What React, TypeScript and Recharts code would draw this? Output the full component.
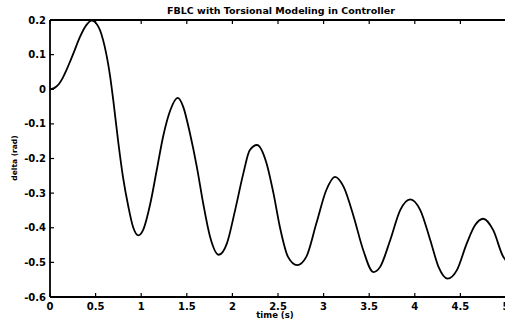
import React from 'react';
import { LineChart, Line, XAxis, YAxis } from 'recharts';

const timeS = [0, 0.05, 0.1, 0.14, 0.18, 0.22, 0.26, 0.33, 0.4, 0.455, 0.53, 0.6, 0.66, 0.7, 0.75, 0.8, 0.86, 0.91, 0.97, 1.02, 1.1, 1.17, 1.24, 1.32, 1.4, 1.46, 1.535, 1.61, 1.68, 1.755, 1.85, 1.94, 2.03, 2.12, 2.19, 2.27, 2.37, 2.45, 2.52, 2.61, 2.71, 2.81, 2.92, 3.03, 3.125, 3.22, 3.33, 3.435, 3.545, 3.62, 3.73, 3.84, 3.95, 4.06, 4.17, 4.26, 4.36, 4.46, 4.57, 4.66, 4.75, 4.86, 4.97, 5.0];
const deltaRad = [0, 0.004, 0.016, 0.033, 0.055, 0.08, 0.106, 0.152, 0.186, 0.198, 0.181, 0.123, 0.036, -0.045, -0.156, -0.253, -0.34, -0.397, -0.422, -0.407, -0.33, -0.234, -0.137, -0.06, -0.025, -0.05, -0.128, -0.224, -0.33, -0.426, -0.478, -0.445, -0.349, -0.243, -0.176, -0.161, -0.21, -0.3, -0.397, -0.484, -0.508, -0.484, -0.388, -0.291, -0.253, -0.282, -0.368, -0.465, -0.528, -0.513, -0.436, -0.349, -0.318, -0.349, -0.436, -0.513, -0.547, -0.523, -0.445, -0.393, -0.374, -0.407, -0.484, -0.495];
const xTicks = [0, 0.5, 1, 1.5, 2, 2.5, 3, 3.5, 4, 4.5, 5];
const yTicks = [0.2, 0.1, 0, -0.1, -0.2, -0.3, -0.4, -0.5, -0.6];

const titleText = 'FBLC with Torsional Modeling in Controller';
const xLabelText = 'time (s)';
const yLabelText = 'delta (rad)';

const data = timeS.map((t, i) => ({ t, d: deltaRad[i] }));

const FONT = '"DejaVu Sans", sans-serif';
const TL = 4;

const BottomTick = (p: any) => (
  <g>
    <line x1={p.x} y1={p.y} x2={p.x} y2={p.y - TL} stroke="#000" strokeWidth={1.2} />
    <text x={p.x} y={p.y + 12.5} textAnchor="middle" fontFamily={FONT} fontWeight="bold" fontSize={10} fill="#000">
      {String(p.payload.value)}
    </text>
  </g>
);
const TopTick = (p: any) => (
  <line x1={p.x} y1={p.y} x2={p.x} y2={p.y + TL} stroke="#000" strokeWidth={1.2} />
);
const LeftTick = (p: any) => (
  <g>
    <line x1={p.x} y1={p.y} x2={p.x + TL} y2={p.y} stroke="#000" strokeWidth={1.2} />
    <text x={p.x - 4} y={p.y + 3.6} textAnchor="end" fontFamily={FONT} fontWeight="bold" fontSize={10} fill="#000">
      {String(p.payload.value)}
    </text>
  </g>
);
const RightTick = (p: any) => (
  <line x1={p.x} y1={p.y} x2={p.x - TL} y2={p.y} stroke="#000" strokeWidth={1.2} />
);

export default function App() {
  return (
    <div style={{ position: 'fixed', left: 0, top: 0, width: 505, height: 326, overflow: 'hidden', background: '#fff' }}>
      <LineChart width={508} height={326} data={data} margin={{ top: 0, right: 2, bottom: 0, left: 0 }}>
        <XAxis xAxisId="b" dataKey="t" type="number" domain={[0, 5]} ticks={xTicks} height={29}
          tickSize={0} tickMargin={0} tickLine={false} tick={<BottomTick />} interval={0}
          axisLine={{ stroke: '#000', strokeWidth: 1.8 }} allowDataOverflow />
        <XAxis xAxisId="t" orientation="top" dataKey="t" type="number" domain={[0, 5]} ticks={xTicks} height={20}
          tickSize={0} tickMargin={0} tickLine={false} tick={<TopTick />} interval={0}
          axisLine={{ stroke: '#000', strokeWidth: 1.8 }} allowDataOverflow />
        <YAxis yAxisId="l" type="number" domain={[-0.6, 0.2]} ticks={yTicks} width={50}
          tickSize={0} tickMargin={0} tickLine={false} tick={<LeftTick />} interval={0}
          axisLine={{ stroke: '#000', strokeWidth: 1.8 }} allowDataOverflow />
        <YAxis yAxisId="r" orientation="right" type="number" domain={[-0.6, 0.2]} ticks={yTicks} width={0}
          tickSize={0} tickMargin={0} tickLine={false} tick={<RightTick />} interval={0}
          axisLine={{ stroke: '#000', strokeWidth: 1.8 }} allowDataOverflow />
        <Line xAxisId="b" yAxisId="l" type="monotone" dataKey="d" stroke="#000" strokeWidth={1.8} dot={false} isAnimationActive={false} />
      </LineChart>
      <div style={{ position: 'absolute', left: 50, width: 462, top: 6, textAlign: 'center', fontFamily: FONT, fontWeight: 'bold', fontSize: 9.5, lineHeight: '10px', whiteSpace: 'nowrap', color: '#000' }}>
        {titleText}
      </div>
      <div style={{ position: 'absolute', left: 225, width: 100, top: 311, textAlign: 'center', fontFamily: FONT, fontWeight: 'bold', fontSize: 8.5, lineHeight: '9px', whiteSpace: 'nowrap', color: '#000' }}>
        {xLabelText}
      </div>
      <div style={{ position: 'absolute', left: 15, top: 157.5, transform: 'translate(-50%, -50%) rotate(-90deg)', fontFamily: FONT, fontWeight: 'bold', fontSize: 7.5, lineHeight: '8px', whiteSpace: 'nowrap', color: '#000' }}>
        {yLabelText}
      </div>
    </div>
  );
}
